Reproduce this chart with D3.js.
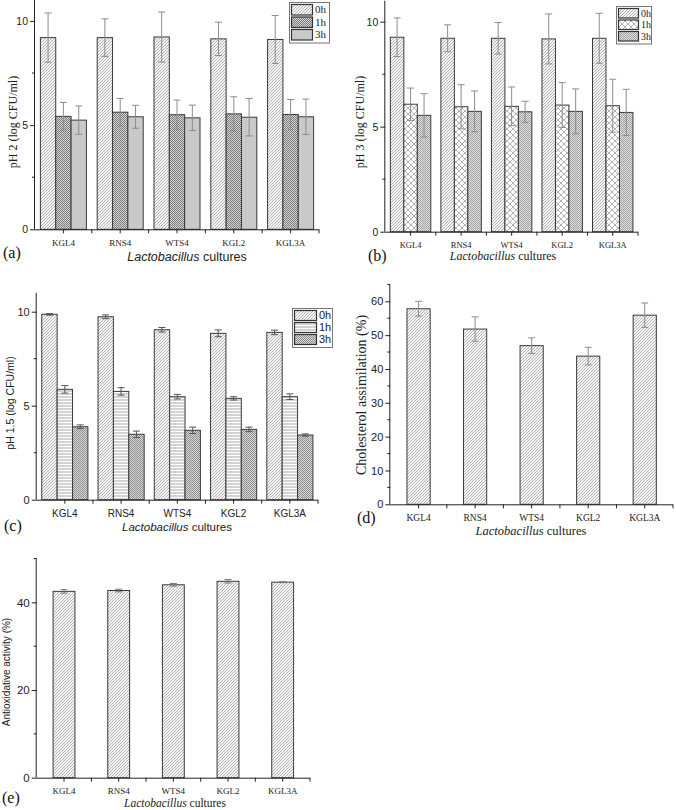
<!DOCTYPE html>
<html><head><meta charset="utf-8">
<script src="https://cdn.jsdelivr.net/npm/d3@7"></script>
<style>body{margin:0;background:#fff}svg{display:block}</style>
</head><body>
<svg id="c" width="676" height="810"></svg>
<script>
// ---------- DATA ----------
const cultures = ["KGL4","RNS4","WTS4","KGL2","KGL3A"];
const times = ["0h","1h","3h"];

const ph2_0h = [9.20, 9.20, 9.23, 9.14, 9.11];
const ph2_1h = [5.42, 5.62, 5.50, 5.54, 5.51];
const ph2_3h = [5.24, 5.40, 5.35, 5.38, 5.40];
const ph2_0h_err = [1.18, 0.90, 1.20, 0.80, 1.15];
const ph2_1h_err = [0.67, 0.66, 0.70, 0.82, 0.72];
const ph2_3h_err = [0.68, 0.55, 0.61, 0.90, 0.85];

const ph3_0h = [9.26, 9.21, 9.21, 9.18, 9.21];
const ph3_1h = [6.07, 5.95, 5.97, 6.03, 6.00];
const ph3_3h = [5.54, 5.73, 5.71, 5.73, 5.68];
const ph3_0h_err = [0.92, 0.64, 0.75, 1.19, 1.19];
const ph3_1h_err = [0.77, 1.05, 0.92, 1.07, 1.26];
const ph3_3h_err = [1.03, 0.97, 0.50, 1.07, 1.10];

const ph15_0h = [9.86, 9.73, 9.04, 8.85, 8.90];
const ph15_1h = [5.87, 5.76, 5.48, 5.39, 5.48];
const ph15_3h = [3.88, 3.48, 3.69, 3.74, 3.44];
const ph15_0h_err = [0.04, 0.10, 0.12, 0.18, 0.12];
const ph15_1h_err = [0.20, 0.20, 0.12, 0.09, 0.15];
const ph15_3h_err = [0.10, 0.17, 0.17, 0.12, 0.06];

const cholesterol = [57.8, 51.8, 46.9, 43.8, 55.9];
const cholesterol_err = [2.2, 3.6, 2.3, 2.6, 3.6];

const antioxidative = [42.5, 42.7, 44.0, 44.8, 44.6];
const antioxidative_err = [0.4, 0.3, 0.3, 0.4, 0.1];

const ticksPH = [0, 5, 10];
const ticksChol = [0, 10, 20, 30, 40, 50, 60];
const ticksAnti = [0, 20, 40];

// ---------- STYLE ----------
const SERIF = "'Liberation Serif','Times New Roman',serif";
const SANS = "'Liberation Sans',Arial,sans-serif";
const svg = d3.select("#c");
const defs = svg.append("defs");

function pat(id, w, h, bg, build){
  const p = defs.append("pattern").attr("id", id).attr("patternUnits","userSpaceOnUse")
    .attr("width", w).attr("height", h);
  p.append("rect").attr("width", w).attr("height", h).attr("fill", bg);
  build(p);
}
pat("diag", 3, 3, "#f4f4f4", p => p.append("path")
  .attr("d","M-1,1 L1,-1 M0,3 L3,0 M2,4 L4,2").attr("stroke","#9a9a9a").attr("stroke-width",0.7));
function checker(id, light, dark){
  pat(id, 2, 2, light, p => {
    p.append("rect").attr("x",0).attr("y",0).attr("width",1).attr("height",1).attr("fill",dark);
    p.append("rect").attr("x",1).attr("y",1).attr("width",1).attr("height",1).attr("fill",dark);
  });
}
checker("grid", "#d4d4d4", "#7c7c7c");
checker("gridL", "#e0e0e0", "#a2a2a2");
checker("gridC", "#d8d8d8", "#8e8e8e");
pat("lattice", 6, 6, "#fff", p => p.append("path")
  .attr("d","M0,0 L6,6 M6,0 L0,6").attr("stroke","#a0a0a0").attr("stroke-width",0.8));
pat("horiz", 3, 3, "#fff", p => p.append("path")
  .attr("d","M0,1 H3").attr("stroke","#a8a8a8").attr("stroke-width",1));
pat("solid", 2, 2, "#c9c9c9", p => {});

// ---------- PANEL ----------
function panel(cfg){
  const g = svg.append("g");
  const x = d3.scaleBand().domain(cultures).range([cfg.x0, cfg.x1]).paddingInner(0).paddingOuter(0);
  const inner = d3.scaleBand().domain(cfg.series.map(s=>s.name))
    .range([x.bandwidth()*(1-cfg.groupFrac)/2, x.bandwidth()*(1+cfg.groupFrac)/2]);
  const y = d3.scaleLinear().domain(cfg.domain).range([cfg.y0, cfg.yTop]);

  cfg.series.forEach(s => {
    cultures.forEach((c,i) => {
      g.append("rect")
        .attr("x", x(c)+inner(s.name)).attr("width", inner.bandwidth())
        .attr("y", y(s.values[i])).attr("height", y(0)-y(s.values[i]))
        .attr("fill", `url(#${s.fill})`).attr("stroke","#3a3a3a").attr("stroke-width",1);
    });
  });
  cfg.series.forEach(s => {
    cultures.forEach((c,i) => {
      const cx = x(c)+inner(s.name)+inner.bandwidth()/2;
      const top = y(s.values[i]+s.err[i]), bot = y(s.values[i]-s.err[i]);
      const eg = g.append("g").attr("stroke",cfg.errColor).attr("stroke-width",1).attr("fill","none");
      eg.append("line").attr("x1",cx).attr("x2",cx).attr("y1",top).attr("y2",bot);
      eg.append("line").attr("x1",cx-3.5).attr("x2",cx+3.5).attr("y1",top).attr("y2",top);
      eg.append("line").attr("x1",cx-3.5).attr("x2",cx+3.5).attr("y1",bot).attr("y2",bot);
    });
  });

  const xa = g.append("g").attr("transform",`translate(0,${cfg.y0})`)
    .call(d3.axisBottom(x).tickSizeOuter(0).tickSize(4).tickPadding(cfg.xTickPad));
  xa.select(".domain").attr("stroke","#222").attr("d",`M${cfg.x0},0.5H${cfg.x1}`);
  xa.selectAll(".tick line").attr("stroke","#222");
  xa.selectAll(".tick text").attr("font-family", cfg.xTickFont).attr("font-size", cfg.xTickSize).attr("fill","#222");
  xa.selectAll(".bt").data(cultures.slice(1).map(c=>x(c)).concat([cfg.x1])).enter()
    .append("line").attr("x1",d=>d).attr("x2",d=>d).attr("y1",0).attr("y2",4).attr("stroke","#222");

  const ya = g.append("g").attr("transform",`translate(${cfg.x0},0)`)
    .call(d3.axisLeft(y).tickValues(cfg.yTicks).tickFormat(d3.format("d")).tickSize(5).tickSizeOuter(0).tickPadding(2));
  ya.select(".domain").attr("stroke","#222").attr("d",`M-0.5,${cfg.y0}V${cfg.yTop}`);
  ya.selectAll(".tick line").attr("stroke","#222");
  ya.selectAll(".tick text").attr("font-family", SANS).attr("font-size", cfg.yTickSize).attr("fill","#222");
  ya.selectAll(".mt").data(cfg.yMinor).enter().append("line")
    .attr("x1",-3).attr("x2",0).attr("y1",d=>y(d)).attr("y2",d=>y(d)).attr("stroke","#222");

  g.append("text").attr("transform",`translate(${cfg.yTitleX},${cfg.yTitleY}) rotate(-90)`)
    .attr("text-anchor","middle").attr("font-family",cfg.yTitleFont).attr("font-size",cfg.yTitleSize)
    .attr("fill","#222").text(cfg.yTitle);

  const xt = g.append("text").attr("x",cfg.xTitleX).attr("y",cfg.xTitleY).attr("text-anchor","middle")
    .attr("font-family",cfg.xTitleFont).attr("font-size",cfg.xTitleSize).attr("fill","#222");
  xt.append("tspan").attr("font-style","italic").text("Lactobacillus");
  xt.append("tspan").text(" cultures");

  g.append("text").attr("x",cfg.labX).attr("y",cfg.labY).attr("font-family",SERIF)
    .attr("font-size",16).attr("fill","#111").text(cfg.label);

  if (cfg.legend){
    const L = cfg.legend;
    const lg = g.append("g").attr("transform",`translate(${L.x},${L.y})`);
    lg.append("rect").attr("x",0.5).attr("y",0.5).attr("width",L.w).attr("height",L.rowH*cfg.series.length+3)
      .attr("fill","#fff").attr("stroke","#777");
    cfg.series.forEach((s,i)=>{
      lg.append("rect").attr("x",2.5).attr("y",2.5+i*L.rowH).attr("width",L.sw).attr("height",L.rowH-2)
        .attr("fill",`url(#${s.fill})`).attr("stroke","#333").attr("stroke-width",1.2);
      lg.append("text").attr("x",L.sw+5).attr("y",2.5+i*L.rowH+L.rowH/2).attr("dominant-baseline","middle")
        .attr("font-family",L.font).attr("font-size",L.fs).attr("fill","#222").text(s.name);
    });
  }
}

// (a)
panel({
  x0:35, x1:319, y0:229.3, yTop:0.1, domain:[0,11], groupFrac:0.81, errColor:"#8c8c8c",
  series:[
    {name:times[0], values:ph2_0h, err:ph2_0h_err, fill:"diag"},
    {name:times[1], values:ph2_1h, err:ph2_1h_err, fill:"grid"},
    {name:times[2], values:ph2_3h, err:ph2_3h_err, fill:"solid"}],
  yTicks:ticksPH, yMinor:[2.5,7.5], yTickSize:10.5,
  xTickFont:SERIF, xTickSize:9, xTickPad:6,
  yTitle:"pH 2 (log CFU/ml)", yTitleX:17, yTitleY:122, yTitleFont:SERIF, yTitleSize:12,
  xTitleX:187, xTitleY:261, xTitleFont:SANS, xTitleSize:12.5,
  label:"(a)", labX:3, labY:258,
  legend:{x:289, y:2, w:40, rowH:12.5, sw:21, font:SERIF, fs:11}
});
// (b)
panel({
  x0:385.3, x1:638, y0:231.7, yTop:0.7, domain:[0,11], groupFrac:0.8, errColor:"#8c8c8c",
  series:[
    {name:times[0], values:ph3_0h, err:ph3_0h_err, fill:"diag"},
    {name:times[1], values:ph3_1h, err:ph3_1h_err, fill:"lattice"},
    {name:times[2], values:ph3_3h, err:ph3_3h_err, fill:"gridL"}],
  yTicks:ticksPH, yMinor:[2.5,7.5], yTickSize:10.5,
  xTickFont:SERIF, xTickSize:8.5, xTickPad:6,
  yTitle:"pH 3 (log CFU/ml)", yTitleX:364, yTitleY:122, yTitleFont:SERIF, yTitleSize:12,
  xTitleX:503, xTitleY:260, xTitleFont:SERIF, xTitleSize:12,
  label:"(b)", labX:368, labY:261,
  legend:{x:616, y:6, w:35, rowH:11.5, sw:20, font:SERIF, fs:10}
});
// (c)
panel({
  x0:36.7, x1:318, y0:499.7, yTop:292.9, domain:[0,11], groupFrac:0.82, errColor:"#555",
  series:[
    {name:times[0], values:ph15_0h, err:ph15_0h_err, fill:"diag"},
    {name:times[1], values:ph15_1h, err:ph15_1h_err, fill:"horiz"},
    {name:times[2], values:ph15_3h, err:ph15_3h_err, fill:"gridC"}],
  yTicks:ticksPH, yMinor:[2.5,7.5], yTickSize:11,
  xTickFont:SANS, xTickSize:10, xTickPad:6,
  yTitle:"pH 1.5 (log CFU/ml)", yTitleX:14, yTitleY:403, yTitleFont:SANS, yTitleSize:10.5,
  xTitleX:177, xTitleY:531, xTitleFont:SANS, xTitleSize:11.5,
  label:"(c)", labX:4, labY:531,
  legend:{x:292, y:308, w:40, rowH:12, sw:22, font:SANS, fs:11}
});
// (d)
panel({
  x0:390.3, x1:673, y0:504.3, yTop:284.4, domain:[0,65], groupFrac:0.41, errColor:"#8c8c8c",
  series:[{name:"v", values:cholesterol, err:cholesterol_err, fill:"diag"}],
  yTicks:ticksChol, yMinor:[5,15,25,35,45,55,65], yTickSize:11,
  xTickFont:SERIF, xTickSize:9.5, xTickPad:6,
  yTitle:"Cholesterol assimilation (%)", yTitleX:366, yTitleY:395, yTitleFont:SERIF, yTitleSize:14,
  xTitleX:531, xTitleY:535, xTitleFont:SERIF, xTitleSize:12.5,
  label:"(d)", labX:357, labY:523,
  legend:null
});
// (e)
panel({
  x0:36.7, x1:310, y0:777.7, yTop:558.5, domain:[0,50], groupFrac:0.4, errColor:"#777",
  series:[{name:"v", values:antioxidative, err:antioxidative_err, fill:"diag"}],
  yTicks:ticksAnti, yMinor:[10,30,50], yTickSize:11.5,
  xTickFont:SERIF, xTickSize:9, xTickPad:6,
  yTitle:"Antioxidative activity (%)", yTitleX:10, yTitleY:672, yTitleFont:SANS, yTitleSize:10,
  xTitleX:175, xTitleY:807, xTitleFont:SERIF, xTitleSize:11.5,
  label:"(e)", labX:2, labY:803,
  legend:null
});
</script>
</body></html>
